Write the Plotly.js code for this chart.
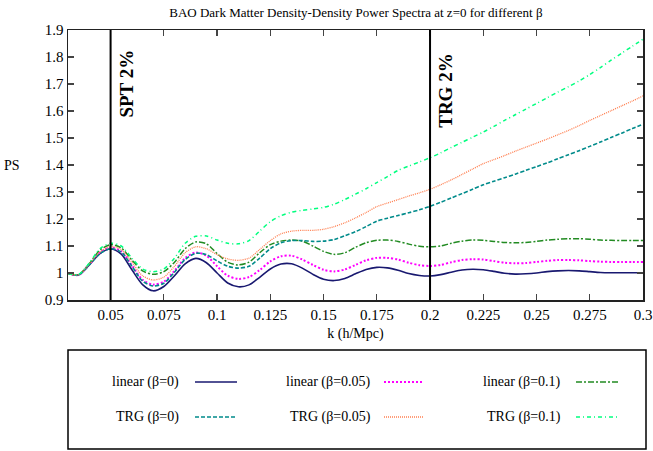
<!DOCTYPE html>
<html>
<head>
<meta charset="utf-8">
<script src="https://cdn.plot.ly/plotly-3.0.1.min.js"></script>
<style>
  html, body { margin: 0; padding: 0; background: #fff; }
  #chart { width: 653px; height: 451px; }
</style>
</head>
<body>
<div id="chart"></div>
<script>
// Wavenumber grid k (h/Mpc)
const k = [];
for (let i = 0; i <= 54; i++) k.push(+(0.03 + i * 0.005).toFixed(3));

// Power spectrum ratios for each model
const linearB0 = [0.998,0.993,1.030,1.072,1.089,1.070,1.012,0.957,0.934,0.950,0.990,1.034,1.054,1.038,1.000,0.963,0.949,0.956,0.984,1.015,1.033,1.034,1.018,0.995,0.977,0.972,0.980,0.997,1.013,1.021,1.019,1.010,0.998,0.991,0.989,0.994,1.003,1.011,1.014,1.012,1.006,0.999,0.996,0.997,1.000,1.005,1.008,1.009,1.008,1.005,1.002,1.001,1.001,1.001,1.001];
const linearB005 = [0.998,0.993,1.032,1.076,1.094,1.080,1.028,0.975,0.957,0.968,1.008,1.055,1.076,1.064,1.025,0.990,0.978,0.985,1.011,1.043,1.062,1.064,1.050,1.030,1.012,1.006,1.013,1.030,1.047,1.056,1.056,1.050,1.038,1.029,1.026,1.030,1.040,1.048,1.051,1.050,1.044,1.038,1.036,1.037,1.041,1.045,1.048,1.048,1.047,1.044,1.042,1.041,1.041,1.041,1.041];
const linearB01 = [0.998,0.994,1.035,1.085,1.105,1.093,1.048,1.008,0.995,1.005,1.040,1.090,1.115,1.108,1.072,1.040,1.030,1.040,1.075,1.105,1.118,1.122,1.118,1.100,1.080,1.069,1.075,1.095,1.112,1.121,1.122,1.117,1.107,1.099,1.097,1.100,1.110,1.118,1.122,1.121,1.117,1.113,1.112,1.113,1.117,1.122,1.125,1.127,1.127,1.125,1.122,1.121,1.120,1.120,1.120];
const trgB0 = [0.998,0.993,1.030,1.072,1.090,1.078,1.025,0.970,0.952,0.962,1.003,1.050,1.073,1.068,1.045,1.025,1.018,1.025,1.055,1.090,1.112,1.120,1.120,1.117,1.118,1.124,1.138,1.153,1.172,1.192,1.203,1.213,1.223,1.234,1.247,1.262,1.278,1.294,1.310,1.327,1.340,1.353,1.366,1.380,1.394,1.408,1.423,1.438,1.453,1.469,1.485,1.502,1.518,1.535,1.551];
const trgB005 = [0.998,0.994,1.033,1.078,1.098,1.087,1.040,0.990,0.974,0.985,1.025,1.075,1.097,1.090,1.068,1.052,1.047,1.055,1.087,1.120,1.145,1.155,1.158,1.158,1.162,1.172,1.186,1.204,1.224,1.246,1.259,1.272,1.285,1.297,1.310,1.327,1.345,1.365,1.385,1.405,1.420,1.435,1.451,1.466,1.481,1.496,1.512,1.528,1.546,1.565,1.583,1.601,1.619,1.637,1.656];
const trgB01 = [0.998,0.995,1.037,1.090,1.110,1.100,1.055,1.015,1.005,1.015,1.055,1.110,1.136,1.137,1.122,1.110,1.108,1.120,1.155,1.190,1.212,1.225,1.232,1.237,1.243,1.255,1.272,1.292,1.312,1.335,1.357,1.380,1.396,1.411,1.427,1.445,1.465,1.484,1.503,1.522,1.543,1.565,1.586,1.607,1.628,1.649,1.670,1.690,1.711,1.735,1.761,1.788,1.814,1.840,1.866];

const seriesNames = ['linear (β=0)', 'linear (β=0.05)', 'linear (β=0.1)', 'TRG (β=0)', 'TRG (β=0.05)', 'TRG (β=0.1)'];
const seriesValues = [linearB0, linearB005, linearB01, trgB0, trgB005, trgB01];
const seriesColors = ['#191970', '#ff00ff', '#228b22', '#008b8b', '#ff7f50', '#00ff7f'];
const seriesDash = ['solid', '2px,2px', '6px,2px,2px,2px', '4px,2px', '1px,1px', '4px,3px,1px,3px'];
const seriesWidth = [1.6, 2, 1.5, 1.6, 1.3, 1.5];

// Axis ticks
const xTickVals = [0.05, 0.075, 0.1, 0.125, 0.15, 0.175, 0.2, 0.225, 0.25, 0.275, 0.3];
const xTickText = ['0.05', '0.075', '0.1', '0.125', '0.15', '0.175', '0.2', '0.225', '0.25', '0.275', '0.3'];
const yTickVals = [0.9, 1.0, 1.1, 1.2, 1.3, 1.4, 1.5, 1.6, 1.7, 1.8, 1.9];
const yTickText = ['0.9', '1', '1.1', '1.2', '1.3', '1.4', '1.5', '1.6', '1.7', '1.8', '1.9'];

// Accuracy limits marked with vertical lines
const limitK = [0.05, 0.2];
const limitLabels = ['SPT 2%', 'TRG 2%'];
const limitLabelY = [0.80, 0.775];

const serif = "'Liberation Serif', 'Times New Roman', 'DejaVu Serif', serif";

const traces = seriesValues.map((vals, i) => ({
  x: k,
  y: vals,
  type: 'scatter',
  mode: 'lines',
  name: seriesNames[i],
  line: { color: seriesColors[i], dash: seriesDash[i], width: seriesWidth[i], shape: 'spline', smoothing: 0.8 },
  showlegend: false,
  hoverinfo: 'skip'
}));

const shapes = [];
const annotations = [];

limitK.forEach((kv, i) => {
  shapes.push({ type: 'line', xref: 'x', yref: 'paper', x0: kv, x1: kv, y0: 0, y1: 1,
                line: { color: '#000', width: 2 } });
  annotations.push({ xref: 'x', yref: 'paper', x: kv, y: limitLabelY[i], xshift: 16,
                     xanchor: 'center', yanchor: 'middle',
                     text: '<b>' + limitLabels[i] + '</b>', textangle: -90, showarrow: false,
                     font: { family: serif, size: 19, color: '#000' } });
});

// Boxed key below the plot, gnuplot style: label right-aligned, sample line to its right
const plotH = 270;          // plot height in px
const pxToPaperY = y => (300 - y) / plotH;
const pxToPaperX = x => (x - 68) / 575;
shapes.push({ type: 'rect', xref: 'paper', yref: 'paper',
              x0: pxToPaperX(68), x1: pxToPaperX(646), y0: pxToPaperY(449), y1: pxToPaperY(350),
              line: { color: '#000', width: 1.5 }, fillcolor: 'rgba(0,0,0,0)' });
const keyTextRight = [181, 373, 563];
const keyLineX = [[195, 237], [384, 424], [576, 618]];
const keyRowY = [382, 417];
seriesNames.forEach((name, i) => {
  const col = i % 3, row = Math.floor(i / 3);
  annotations.push({ xref: 'paper', yref: 'paper', x: pxToPaperX(keyTextRight[col]), y: pxToPaperY(keyRowY[row]),
                     xanchor: 'right', yanchor: 'middle', text: name, showarrow: false,
                     font: { family: serif, size: 14, color: '#000' } });
  shapes.push({ type: 'line', xref: 'paper', yref: 'paper',
                x0: pxToPaperX(keyLineX[col][0]), x1: pxToPaperX(keyLineX[col][1]),
                y0: pxToPaperY(keyRowY[row]), y1: pxToPaperY(keyRowY[row]),
                line: { color: seriesColors[i], dash: seriesDash[i], width: seriesWidth[i] } });
});

// Horizontal y label
annotations.push({ xref: 'paper', yref: 'paper', x: pxToPaperX(12), y: 0.5, xanchor: 'center', yanchor: 'middle',
                   text: 'PS', showarrow: false, font: { family: serif, size: 14, color: '#000' } });

const axisCommon = {
  showline: true, linecolor: '#222', linewidth: 1.5, mirror: 'ticks',
  ticks: 'inside', ticklen: 6, tickwidth: 1.2, tickcolor: '#444',
  showgrid: false, zeroline: false,
  tickfont: { family: serif, size: 15, color: '#000' }
};

const layout = {
  width: 653, height: 451,
  margin: { l: 68, r: 10, t: 30, b: 151 },
  paper_bgcolor: '#fff', plot_bgcolor: '#fff',
  title: { text: 'BAO Dark Matter Density-Density Power Spectra at z=0 for different β',
           font: { family: serif, size: 13, color: '#000' }, x: 0.545, xanchor: 'center', y: 0.972, yanchor: 'middle' },
  xaxis: Object.assign({}, axisCommon, {
    range: [0.03, 0.3], tickvals: xTickVals, ticktext: xTickText,
    title: { text: 'k (h/Mpc)', font: { family: serif, size: 14, color: '#000' }, standoff: 6 }
  }),
  yaxis: Object.assign({}, axisCommon, {
    range: [0.9, 1.9], tickvals: yTickVals, ticktext: yTickText
  }),
  shapes: shapes,
  annotations: annotations,
  showlegend: false
};

Plotly.newPlot('chart', traces, layout, { staticPlot: true, displayModeBar: false });
</script>
</body>
</html>
